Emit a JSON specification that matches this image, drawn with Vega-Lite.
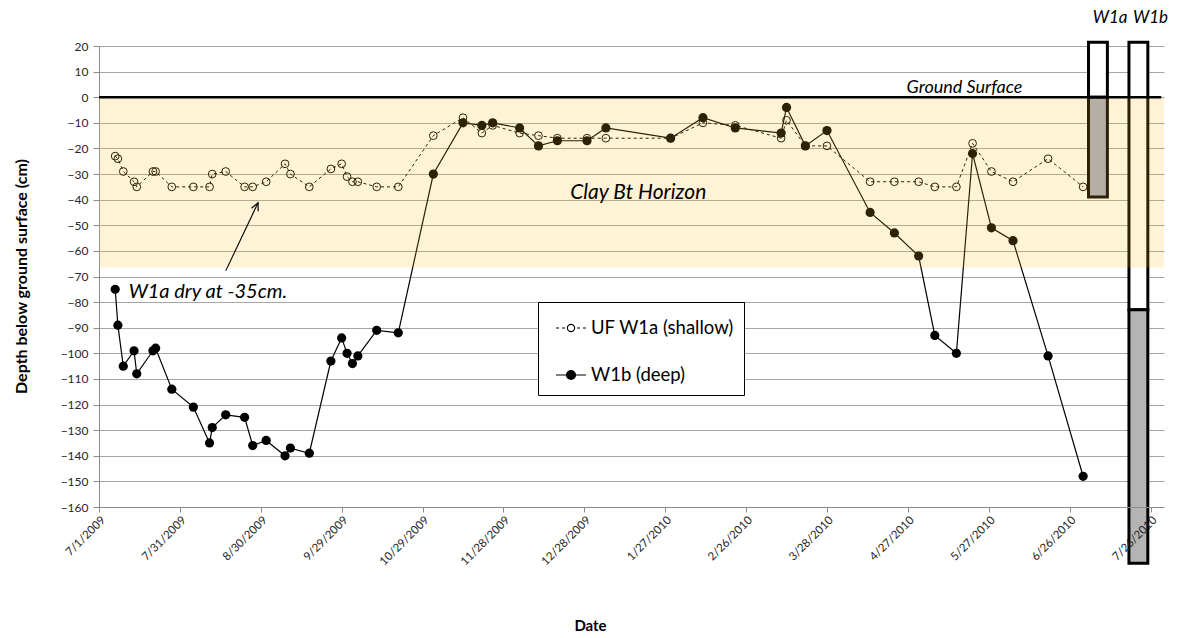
{
  "$schema": "https://vega.github.io/schema/vega-lite/v6.json",
  "width": 1065,
  "height": 461,
  "autosize": {"type": "none"},
  "padding": {"left": 99, "top": 46, "right": 16, "bottom": 131},
  "background": "white",
  "config": {"view": {"stroke": null}, "font": "Lato", "axisY": {"tickCount": 20}},
  "datasets": {
    "obs": [
      {"date": "2009-07-07", "series": "UF W1a (shallow)", "depth": -23}, {"date": "2009-07-07", "series": "W1b (deep)", "depth": -75},
      {"date": "2009-07-08", "series": "UF W1a (shallow)", "depth": -24}, {"date": "2009-07-08", "series": "W1b (deep)", "depth": -89},
      {"date": "2009-07-10", "series": "UF W1a (shallow)", "depth": -29}, {"date": "2009-07-10", "series": "W1b (deep)", "depth": -105},
      {"date": "2009-07-14", "series": "UF W1a (shallow)", "depth": -33}, {"date": "2009-07-14", "series": "W1b (deep)", "depth": -99},
      {"date": "2009-07-15", "series": "UF W1a (shallow)", "depth": -35}, {"date": "2009-07-15", "series": "W1b (deep)", "depth": -108},
      {"date": "2009-07-21", "series": "UF W1a (shallow)", "depth": -29}, {"date": "2009-07-21", "series": "W1b (deep)", "depth": -99},
      {"date": "2009-07-22", "series": "UF W1a (shallow)", "depth": -29}, {"date": "2009-07-22", "series": "W1b (deep)", "depth": -98},
      {"date": "2009-07-28", "series": "UF W1a (shallow)", "depth": -35}, {"date": "2009-07-28", "series": "W1b (deep)", "depth": -114},
      {"date": "2009-08-05", "series": "UF W1a (shallow)", "depth": -35}, {"date": "2009-08-05", "series": "W1b (deep)", "depth": -121},
      {"date": "2009-08-11", "series": "UF W1a (shallow)", "depth": -35}, {"date": "2009-08-11", "series": "W1b (deep)", "depth": -135},
      {"date": "2009-08-12", "series": "UF W1a (shallow)", "depth": -30}, {"date": "2009-08-12", "series": "W1b (deep)", "depth": -129},
      {"date": "2009-08-17", "series": "UF W1a (shallow)", "depth": -29}, {"date": "2009-08-17", "series": "W1b (deep)", "depth": -124},
      {"date": "2009-08-24", "series": "UF W1a (shallow)", "depth": -35}, {"date": "2009-08-24", "series": "W1b (deep)", "depth": -125},
      {"date": "2009-08-27", "series": "UF W1a (shallow)", "depth": -35}, {"date": "2009-08-27", "series": "W1b (deep)", "depth": -136},
      {"date": "2009-09-01", "series": "UF W1a (shallow)", "depth": -33}, {"date": "2009-09-01", "series": "W1b (deep)", "depth": -134},
      {"date": "2009-09-08", "series": "UF W1a (shallow)", "depth": -26}, {"date": "2009-09-08", "series": "W1b (deep)", "depth": -140},
      {"date": "2009-09-10", "series": "UF W1a (shallow)", "depth": -30}, {"date": "2009-09-10", "series": "W1b (deep)", "depth": -137},
      {"date": "2009-09-17", "series": "UF W1a (shallow)", "depth": -35}, {"date": "2009-09-17", "series": "W1b (deep)", "depth": -139},
      {"date": "2009-09-25", "series": "UF W1a (shallow)", "depth": -28}, {"date": "2009-09-25", "series": "W1b (deep)", "depth": -103},
      {"date": "2009-09-29", "series": "UF W1a (shallow)", "depth": -26}, {"date": "2009-09-29", "series": "W1b (deep)", "depth": -94},
      {"date": "2009-10-01", "series": "UF W1a (shallow)", "depth": -31}, {"date": "2009-10-01", "series": "W1b (deep)", "depth": -100},
      {"date": "2009-10-03", "series": "UF W1a (shallow)", "depth": -33}, {"date": "2009-10-03", "series": "W1b (deep)", "depth": -104},
      {"date": "2009-10-05", "series": "UF W1a (shallow)", "depth": -33}, {"date": "2009-10-05", "series": "W1b (deep)", "depth": -101},
      {"date": "2009-10-12", "series": "UF W1a (shallow)", "depth": -35}, {"date": "2009-10-12", "series": "W1b (deep)", "depth": -91},
      {"date": "2009-10-20", "series": "UF W1a (shallow)", "depth": -35}, {"date": "2009-10-20", "series": "W1b (deep)", "depth": -92},
      {"date": "2009-11-02", "series": "UF W1a (shallow)", "depth": -15}, {"date": "2009-11-02", "series": "W1b (deep)", "depth": -30},
      {"date": "2009-11-13", "series": "UF W1a (shallow)", "depth": -8}, {"date": "2009-11-13", "series": "W1b (deep)", "depth": -10},
      {"date": "2009-11-20", "series": "UF W1a (shallow)", "depth": -14}, {"date": "2009-11-20", "series": "W1b (deep)", "depth": -11},
      {"date": "2009-11-24", "series": "UF W1a (shallow)", "depth": -11}, {"date": "2009-11-24", "series": "W1b (deep)", "depth": -10},
      {"date": "2009-12-04", "series": "UF W1a (shallow)", "depth": -14}, {"date": "2009-12-04", "series": "W1b (deep)", "depth": -12},
      {"date": "2009-12-11", "series": "UF W1a (shallow)", "depth": -15}, {"date": "2009-12-11", "series": "W1b (deep)", "depth": -19},
      {"date": "2009-12-18", "series": "UF W1a (shallow)", "depth": -16}, {"date": "2009-12-18", "series": "W1b (deep)", "depth": -17},
      {"date": "2009-12-29", "series": "UF W1a (shallow)", "depth": -16}, {"date": "2009-12-29", "series": "W1b (deep)", "depth": -17},
      {"date": "2010-01-05", "series": "UF W1a (shallow)", "depth": -16}, {"date": "2010-01-05", "series": "W1b (deep)", "depth": -12},
      {"date": "2010-01-29", "series": "UF W1a (shallow)", "depth": -16}, {"date": "2010-01-29", "series": "W1b (deep)", "depth": -16},
      {"date": "2010-02-10", "series": "UF W1a (shallow)", "depth": -10}, {"date": "2010-02-10", "series": "W1b (deep)", "depth": -8},
      {"date": "2010-02-22", "series": "UF W1a (shallow)", "depth": -11}, {"date": "2010-02-22", "series": "W1b (deep)", "depth": -12},
      {"date": "2010-03-11", "series": "UF W1a (shallow)", "depth": -16}, {"date": "2010-03-11", "series": "W1b (deep)", "depth": -14},
      {"date": "2010-03-13", "series": "UF W1a (shallow)", "depth": -9}, {"date": "2010-03-13", "series": "W1b (deep)", "depth": -4},
      {"date": "2010-03-20", "series": "UF W1a (shallow)", "depth": -19}, {"date": "2010-03-20", "series": "W1b (deep)", "depth": -19},
      {"date": "2010-03-28", "series": "UF W1a (shallow)", "depth": -19}, {"date": "2010-03-28", "series": "W1b (deep)", "depth": -13},
      {"date": "2010-04-13", "series": "UF W1a (shallow)", "depth": -33}, {"date": "2010-04-13", "series": "W1b (deep)", "depth": -45},
      {"date": "2010-04-22", "series": "UF W1a (shallow)", "depth": -33}, {"date": "2010-04-22", "series": "W1b (deep)", "depth": -53},
      {"date": "2010-05-01", "series": "UF W1a (shallow)", "depth": -33}, {"date": "2010-05-01", "series": "W1b (deep)", "depth": -62},
      {"date": "2010-05-07", "series": "UF W1a (shallow)", "depth": -35}, {"date": "2010-05-07", "series": "W1b (deep)", "depth": -93},
      {"date": "2010-05-15", "series": "UF W1a (shallow)", "depth": -35}, {"date": "2010-05-15", "series": "W1b (deep)", "depth": -100},
      {"date": "2010-05-21", "series": "UF W1a (shallow)", "depth": -18}, {"date": "2010-05-21", "series": "W1b (deep)", "depth": -22},
      {"date": "2010-05-28", "series": "UF W1a (shallow)", "depth": -29}, {"date": "2010-05-28", "series": "W1b (deep)", "depth": -51},
      {"date": "2010-06-05", "series": "UF W1a (shallow)", "depth": -33}, {"date": "2010-06-05", "series": "W1b (deep)", "depth": -56},
      {"date": "2010-06-18", "series": "UF W1a (shallow)", "depth": -24}, {"date": "2010-06-18", "series": "W1b (deep)", "depth": -101},
      {"date": "2010-07-01", "series": "UF W1a (shallow)", "depth": -35}, {"date": "2010-07-01", "series": "W1b (deep)", "depth": -148}
    ],
    "boxes": [
      {"well": "W1a", "part": "open", "start": "2010-07-03", "end": "2010-07-10", "top": 21.5, "bottom": 0},
      {"well": "W1a", "part": "filled", "start": "2010-07-03", "end": "2010-07-10", "top": 0, "bottom": -39},
      {"well": "W1b", "part": "open", "start": "2010-07-18", "end": "2010-07-25", "top": 21.5, "bottom": -83},
      {"well": "W1b", "part": "filled", "start": "2010-07-18", "end": "2010-07-25", "top": -83, "bottom": -182}
    ]
  },
  "layer": [
    {
      "data": {"name": "obs"},
      "transform": [{"filter": "datum.series === 'W1b (deep)'"}],
      "mark": {"type": "line", "color": "black", "strokeWidth": 1.2},
      "encoding": {
        "x": {
          "field": "date", "type": "temporal",
          "scale": {"type": "utc", "domain": [{"year": 2009, "month": 7, "date": 1, "utc": true}, {"year": 2010, "month": 7, "date": 31, "utc": true}]},
          "axis": {
            "title": "Date",
            "values": [
              {"year": 2009, "month": 7, "date": 1, "utc": true}, {"year": 2009, "month": 7, "date": 31, "utc": true},
              {"year": 2009, "month": 8, "date": 30, "utc": true}, {"year": 2009, "month": 9, "date": 29, "utc": true},
              {"year": 2009, "month": 10, "date": 29, "utc": true}, {"year": 2009, "month": 11, "date": 28, "utc": true},
              {"year": 2009, "month": 12, "date": 28, "utc": true}, {"year": 2010, "month": 1, "date": 27, "utc": true},
              {"year": 2010, "month": 2, "date": 26, "utc": true}, {"year": 2010, "month": 3, "date": 28, "utc": true},
              {"year": 2010, "month": 4, "date": 27, "utc": true}, {"year": 2010, "month": 5, "date": 27, "utc": true},
              {"year": 2010, "month": 6, "date": 26, "utc": true}, {"year": 2010, "month": 7, "date": 26, "utc": true}
            ],
            "tickCount": 30,
            "format": "%-m/%-d/%Y",
            "labelAngle": -45, "labelFlush": false, "labelOverlap": false, "labelBound": false,
            "labelFont": "Lato", "labelFontSize": 11.5, "labelColor": "#262626",
            "tickSize": 5, "tickColor": "#8C8C8C", "domainColor": "#8C8C8C", "grid": false,
            "titleFont": "Lato", "titleFontSize": 15, "titleFontWeight": "bold", "titleColor": "black",
            "titleX": 491, "titleY": 118, "titleAlign": "center", "titleBaseline": "middle",
            "zindex": 1
          }
        },
        "y": {
          "field": "depth", "type": "quantitative",
          "scale": {"domain": [-160, 20], "nice": false, "zero": false},
          "axis": {
            "title": "Depth below ground surface (cm)",
            "values": [-160, -150, -140, -130, -120, -110, -100, -90, -80, -70, -60, -50, -40, -30, -20, -10, 0, 10, 20],
            "tickCount": 20, "labelOverlap": false, "labelFlush": false,
            "grid": true, "gridColor": "#A6A6A6", "gridWidth": 1,
            "domainColor": "#8C8C8C", "tickColor": "#8C8C8C", "tickSize": 6, "labelPadding": 5,
            "labelFont": "Lato", "labelFontSize": 12, "labelColor": "#262626",
            "titleFont": "Lato", "titleFontSize": 16, "titleFontWeight": "bold", "titleColor": "black",
            "titleX": -78, "titleY": 230, "titleAngle": -90, "titleAlign": "center", "titleBaseline": "middle",
            "zindex": 0
          }
        }
      }
    },
    {
      "data": {"name": "obs"},
      "transform": [{"filter": "datum.series === 'UF W1a (shallow)'"}],
      "mark": {"type": "line", "color": "black", "strokeWidth": 1, "strokeDash": [3, 3]},
      "encoding": {
        "x": {"field": "date", "type": "temporal"},
        "y": {"field": "depth", "type": "quantitative"}
      }
    },
    {
      "data": {"name": "obs"},
      "transform": [{"filter": "datum.series === 'UF W1a (shallow)'"}],
      "mark": {"type": "point", "shape": "circle", "filled": false, "stroke": "black", "strokeWidth": 1, "size": 60, "opacity": 1},
      "encoding": {
        "x": {"field": "date", "type": "temporal"},
        "y": {"field": "depth", "type": "quantitative"}
      }
    },
    {
      "data": {"name": "obs"},
      "transform": [{"filter": "datum.series === 'W1b (deep)'"}],
      "mark": {"type": "point", "shape": "circle", "filled": true, "color": "black", "size": 85, "opacity": 1},
      "encoding": {
        "x": {"field": "date", "type": "temporal"},
        "y": {"field": "depth", "type": "quantitative"}
      }
    },
    {
      "data": {"name": "boxes"},
      "transform": [{"filter": "datum.part === 'open'"}],
      "mark": {"type": "rect", "fill": "white", "stroke": "black", "strokeWidth": 3},
      "encoding": {
        "x": {"field": "start", "type": "temporal"},
        "x2": {"field": "end"},
        "y": {"field": "top", "type": "quantitative"},
        "y2": {"field": "bottom"}
      }
    },
    {
      "data": {"name": "boxes"},
      "transform": [{"filter": "datum.part === 'filled' && datum.well === 'W1a'"}],
      "mark": {"type": "rect", "fill": "#A6ABC2", "stroke": "black", "strokeWidth": 3},
      "encoding": {
        "x": {"field": "start", "type": "temporal"},
        "x2": {"field": "end"},
        "y": {"field": "top", "type": "quantitative"},
        "y2": {"field": "bottom"}
      }
    },
    {
      "data": {"name": "boxes"},
      "transform": [{"filter": "datum.part === 'filled' && datum.well === 'W1b'"}],
      "mark": {"type": "rect", "fill": "#B4B4B4", "stroke": "black", "strokeWidth": 3},
      "encoding": {
        "x": {"field": "start", "type": "temporal"},
        "x2": {"field": "end"},
        "y": {"field": "top", "type": "quantitative"},
        "y2": {"field": "bottom"}
      }
    },
    {
      "data": {"values": [{"start": "2009-07-01", "end": "2010-07-31", "top": 0, "bottom": -66.5}]},
      "mark": {"type": "rect", "fill": "#FABD1C", "fillOpacity": 0.18},
      "encoding": {
        "x": {"field": "start", "type": "temporal"},
        "x2": {"field": "end"},
        "y": {"field": "top", "type": "quantitative"},
        "y2": {"field": "bottom"}
      }
    },
    {
      "data": {"values": [{"start": "2009-07-01", "end": "2010-07-30", "depth": 0}]},
      "mark": {"type": "rule", "color": "black", "strokeWidth": 2.5},
      "encoding": {
        "x": {"field": "start", "type": "temporal"},
        "x2": {"field": "end"},
        "y": {"field": "depth", "type": "quantitative"}
      }
    },
    {
      "data": {"values": [{"from": "2009-08-17", "fromDepth": -67.8, "to": "2009-08-29", "toDepth": -41.2}]},
      "mark": {"type": "rule", "color": "black", "strokeWidth": 1.1},
      "encoding": {
        "x": {"field": "from", "type": "temporal"},
        "x2": {"field": "to"},
        "y": {"field": "fromDepth", "type": "quantitative"},
        "y2": {"field": "toDepth"}
      }
    },
    {
      "data": {"values": [{"to": "2009-08-29", "toDepth": -41.2}]},
      "mark": {"type": "point", "shape": "M-0.42,0.9L0,0L0.42,0.9", "angle": 24.6, "size": 300, "filled": false, "stroke": "black", "strokeWidth": 1.2, "opacity": 1},
      "encoding": {
        "x": {"field": "to", "type": "temporal"},
        "y": {"field": "toDepth", "type": "quantitative"}
      }
    },
    {
      "data": {"values": [{"label": "Ground Surface", "date": "2010-05-18", "depth": 1.7}]},
      "mark": {"type": "text", "font": "Lato", "fontStyle": "italic", "fontSize": 18, "align": "center", "baseline": "alphabetic", "color": "black"},
      "encoding": {
        "x": {"field": "date", "type": "temporal"},
        "y": {"field": "depth", "type": "quantitative"},
        "text": {"field": "label"}
      }
    },
    {
      "data": {"values": [{"label": "Clay Bt Horizon", "date": "2010-01-17", "depth": -39.6}]},
      "mark": {"type": "text", "font": "Lato", "fontStyle": "italic", "fontSize": 21, "align": "center", "baseline": "alphabetic", "color": "black"},
      "encoding": {
        "x": {"field": "date", "type": "temporal"},
        "y": {"field": "depth", "type": "quantitative"},
        "text": {"field": "label"}
      }
    },
    {
      "data": {"values": [{"label": "W1a dry at -35cm.", "date": "2009-07-12", "depth": -78.4}]},
      "mark": {"type": "text", "font": "Lato", "fontStyle": "italic", "fontSize": 20, "align": "left", "baseline": "alphabetic", "color": "black"},
      "encoding": {
        "x": {"field": "date", "type": "temporal"},
        "y": {"field": "depth", "type": "quantitative"},
        "text": {"field": "label"}
      }
    },
    {
      "data": {"values": [{"label": "W1a", "date": "2010-07-11", "depth": 28.8}, {"label": "W1b", "date": "2010-07-26", "depth": 28.8}]},
      "mark": {"type": "text", "font": "Lato", "fontStyle": "italic", "fontSize": 17, "align": "center", "baseline": "alphabetic", "color": "black"},
      "encoding": {
        "x": {"field": "date", "type": "temporal"},
        "y": {"field": "depth", "type": "quantitative"},
        "text": {"field": "label"}
      }
    },
    {
      "data": {"name": "obs"},
      "transform": [{"filter": "false"}],
      "mark": {"type": "point", "filled": false, "color": "black", "strokeWidth": 1.2, "opacity": 1},
      "encoding": {
        "x": {"field": "date", "type": "temporal"},
        "y": {"field": "depth", "type": "quantitative"},
        "shape": {
          "field": "series", "type": "nominal",
          "scale": {
            "domain": ["UF W1a (shallow)", "W1b (deep)"],
            "range": [
              "M-1,0L-0.8,0M-0.6,0L-0.4,0M0.4,0L0.6,0M0.8,0L1,0M-0.24,0A0.24 0.24 0 1 0 0.24,0A0.24 0.24 0 1 0 -0.24,0",
              "M-1,0L-0.3,0M0.3,0L1,0M-0.3,0A0.3 0.3 0 1 0 0.3,0A0.3 0.3 0 1 0 -0.3,0M-0.24,0A0.24 0.24 0 1 0 0.24,0A0.24 0.24 0 1 0 -0.24,0M-0.18,0A0.18 0.18 0 1 0 0.18,0A0.18 0.18 0 1 0 -0.18,0M-0.12,0A0.12 0.12 0 1 0 0.12,0A0.12 0.12 0 1 0 -0.12,0M-0.06,0A0.06 0.06 0 1 0 0.06,0A0.06 0.06 0 1 0 -0.06,0M-0.02,0L0.02,0"
            ]
          },
          "legend": {
            "title": null, "orient": "none", "legendX": 439, "legendY": 256, "padding": 10, "symbolOffset": 7,
            "strokeColor": "black", "fillColor": "white", "symbolSize": 900, "rowPadding": 21,
            "labelFont": "Lato", "labelFontSize": 18.5, "labelColor": "black", "labelOffset": 4, "labelLimit": 400,
            "symbolStrokeColor": "black", "symbolStrokeWidth": 1.2, "symbolFillColor": "transparent"
          }
        }
      }
    }
  ]
}
